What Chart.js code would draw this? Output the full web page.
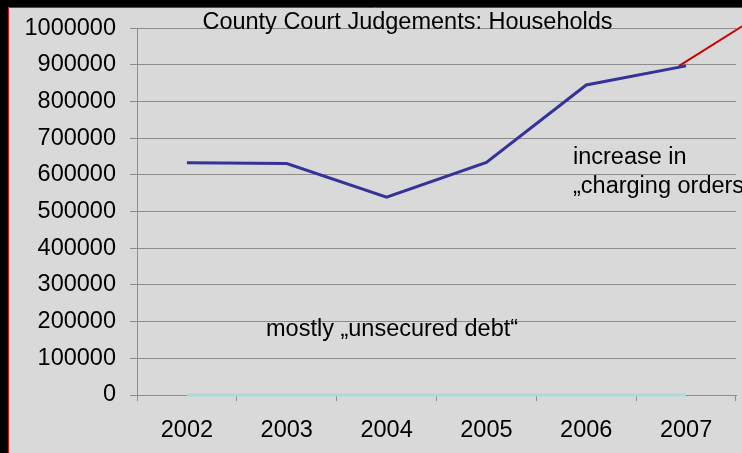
<!DOCTYPE html>
<html>
<head>
<meta charset="utf-8">
<script src="https://cdn.jsdelivr.net/npm/chart.js@4.4.0/dist/chart.umd.min.js"></script>
<style>
  html, body { margin: 0; padding: 0; background: #000; }
  #wrap { width: 742px; height: 453px; }
</style>
</head>
<body>
<div id="wrap"><canvas id="canvas" width="742" height="453"></canvas></div>
<script>
// data
var years = ['2002', '2003', '2004', '2005', '2006', '2007'];
var households = [633000, 631000, 539000, 634000, 845000, 897000];
var unsecured = [0, 0, 0, 0, 0, 0];
// red "charging orders" trend, x in category index units
var chargingTrend = [{ x: 4.93, y: 897000 }, { x: 5.62, y: 1015000 }];
var yTicks = [0, 100000, 200000, 300000, 400000, 500000, 600000, 700000, 800000, 900000, 1000000];

var FONT = 'Liberation Sans, Arial, sans-serif';
var gridColor = '#8c8c8c';

var framePlugin = {
    id: 'frame',
    beforeDraw: function (chart) {
        var c = chart.ctx;
        c.save();
        c.fillStyle = '#000';
        c.fillRect(0, 0, chart.width, chart.height);
        c.fillStyle = '#d9d9d9';
        c.fillRect(8, 7, chart.width - 8, chart.height - 7);
        c.strokeStyle = '#e01010';
        c.lineWidth = 1;
        c.beginPath();
        c.moveTo(8.5, chart.height);
        c.lineTo(8.5, 7.5);
        c.lineTo(chart.width, 7.5);
        c.stroke();
        c.restore();
    },
    afterDraw: function (chart) {
        var c = chart.ctx;
        c.save();
        c.fillStyle = '#000';
        c.font = '23.5px ' + FONT;
        c.textBaseline = 'alphabetic';
        c.textAlign = 'center';
        c.fillText('County Court Judgements: Households', 407.5, 29);
        c.textAlign = 'left';
        c.fillText('increase in', 573, 164);
        c.fillText('\u201Echarging orders\u201C', 573, 193);
        c.fillText('mostly \u201Eunsecured debt\u201C', 266, 336);
        c.restore();
    }
};

const ctx = document.getElementById('canvas').getContext('2d');
const myChart = new Chart(ctx, {
    type: 'line',
    data: {
        labels: years,
        datasets: [{
            label: 'Households',
            data: households,
            borderColor: '#333399',
            borderWidth: 3,
            pointRadius: 0,
            tension: 0
        }, {
            label: 'unsecured',
            data: unsecured,
            borderColor: '#aed9dd',
            borderWidth: 3,
            pointRadius: 0,
            tension: 0,
            clip: false
        }, {
            label: 'charging orders',
            data: chargingTrend,
            xAxisID: 'x2',
            borderColor: '#cc0000',
            borderWidth: 2,
            pointRadius: 0,
            tension: 0,
            clip: false
        }]
    },
    options: {
        responsive: false,
        animation: false,
        layout: { padding: { left: 9, top: 28, right: 6, bottom: 0 } },
        plugins: {
            legend: { display: false },
            tooltip: { enabled: false },
            title: { display: false }
        },
        scales: {
            x: {
                offset: true,
                grid: { drawOnChartArea: false, drawTicks: true, tickLength: 6, offset: true, color: gridColor },
                border: { display: true, color: gridColor },
                ticks: { color: '#000', font: { family: FONT, size: 23.5 }, padding: 15, maxRotation: 0 },
                afterFit: function (s) { s.height = 58; }
            },
            x2: {
                type: 'linear',
                display: false,
                min: -0.5,
                max: 5.5
            },
            y: {
                min: 0,
                max: 1000000,
                afterBuildTicks: function (s) { s.ticks = yTicks.map(function (v) { return { value: v }; }); },
                grid: { color: gridColor, tickLength: 7 },
                border: { display: true, color: gridColor },
                ticks: { color: '#000', font: { family: FONT, size: 23.5 }, padding: 14,
                    callback: function (v) { return String(v); } },
                afterFit: function (s) { s.width = 128; }
            }
        }
    },
    plugins: [framePlugin]
});
</script>
</body>
</html>
